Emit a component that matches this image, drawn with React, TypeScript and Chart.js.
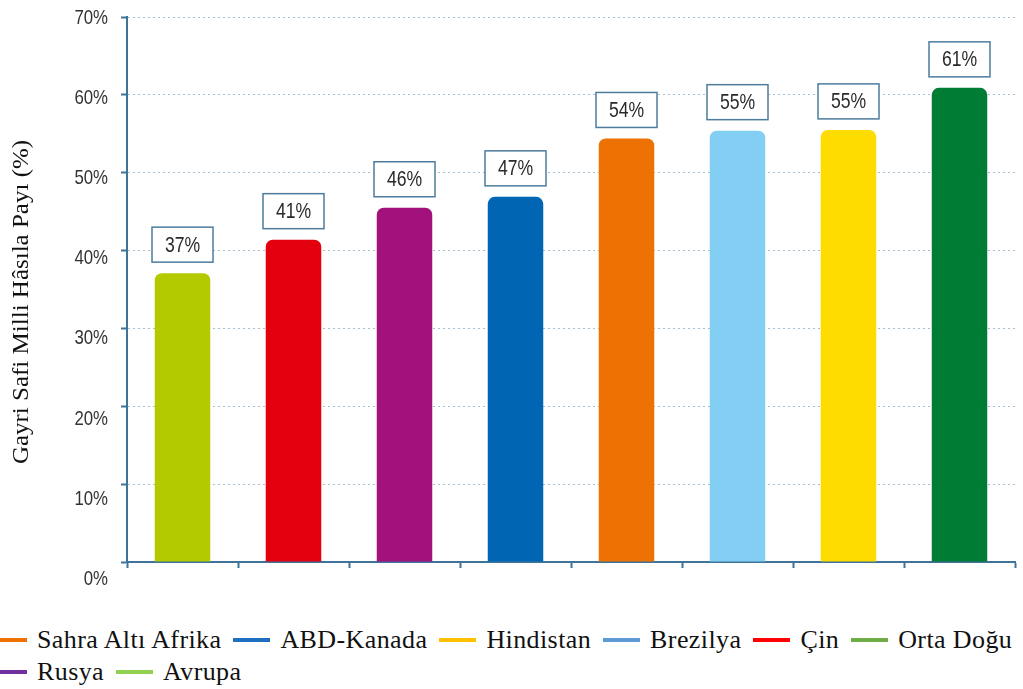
import React, { useEffect, useRef } from "react";
import { Chart, registerables } from "chart.js";

Chart.register(...registerables);

const categories = ["Avrupa", "Çin", "Rusya", "ABD-Kanada", "Sahra Altı Afrika", "Brezilya", "Hindistan", "Orta Doğu"];
const values = [37.1, 41.4, 45.5, 46.9, 54.4, 55.4, 55.5, 60.9];
const valueLabels = ["37%", "41%", "46%", "47%", "54%", "55%", "55%", "61%"];
const barColors = ["#b3c900", "#e3000f", "#a2117c", "#0066b3", "#ee7203", "#83cff4", "#ffdc00", "#007c34"];
const yTicks = [0, 10, 20, 30, 40, 50, 60, 70];
const yTickLabels = ["0%", "10%", "20%", "30%", "40%", "50%", "60%", "70%"];
const legendNames = ["Sahra Altı Afrika", "ABD-Kanada", "Hindistan", "Brezilya", "Çin", "Orta Doğu", "Rusya", "Avrupa"];
const legendColors = ["#ee7203", "#1e6fbd", "#ffc000", "#5b9bd5", "#ff0000", "#70ad47", "#7030a0", "#92d050"];
const axisTitle = "Gayri Safi Milli Hâsıla Payı (%)";

const AXIS = "#3f7399";
const SANS = "'Liberation Sans', Arial, sans-serif";
const SERIF = "'Liberation Serif', 'Times New Roman', serif";

function narrowText(ctx: CanvasRenderingContext2D, text: string, x: number, y: number, align: CanvasTextAlign) {
  ctx.save();
  ctx.translate(x, y);
  ctx.scale(0.8, 1);
  ctx.textAlign = align;
  ctx.fillText(text, 0, 0);
  ctx.restore();
}

const labelPlugin = {
  id: "narrowLabels",
  afterDatasetsDraw(chart: any) {
    const ctx = chart.ctx;
    const meta = chart.getDatasetMeta(0);
    ctx.save();
    meta.data.forEach((bar: any, i: number) => {
      const w = 61;
      const h = 35;
      const x = bar.x - w / 2;
      const y = bar.y - 11 - h;
      ctx.fillStyle = "#ffffff";
      ctx.fillRect(x, y, w, h);
      ctx.strokeStyle = "#4d7c9e";
      ctx.lineWidth = 1.5;
      ctx.strokeRect(x, y, w, h);
      ctx.fillStyle = "#2a2a2a";
      ctx.font = `22px ${SANS}`;
      ctx.textBaseline = "middle";
      narrowText(ctx, valueLabels[i], bar.x, y + h / 2 + 1, "center");
    });
    const ys = chart.scales.y;
    ctx.fillStyle = "#333333";
    ctx.font = `21px ${SANS}`;
    ctx.textBaseline = "middle";
    yTicks.forEach((v, i) => {
      const shift = 17 - (16 * v) / 70;
      narrowText(ctx, yTickLabels[i], 108, ys.getPixelForValue(v) + shift, "right");
    });
    ctx.save();
    ctx.translate(22, 302);
    ctx.rotate(-Math.PI / 2);
    ctx.scale(1.25, 1.2);
    ctx.fillStyle = "#111111";
    ctx.font = `20px ${SERIF}`;
    ctx.textAlign = "center";
    ctx.textBaseline = "middle";
    ctx.fillText(axisTitle, 0, 0);
    ctx.restore();
    ctx.restore();
  },
};

export default function App() {
  const canvasRef = useRef<HTMLCanvasElement>(null);

  useEffect(() => {
    if (!canvasRef.current) return;
    const chart = new Chart(canvasRef.current, {
      type: "bar",
      data: {
        labels: categories,
        datasets: [
          {
            data: values,
            backgroundColor: barColors,
            borderWidth: 0,
            borderRadius: { topLeft: 7, topRight: 7, bottomLeft: 0, bottomRight: 0 },
            borderSkipped: "bottom",
            barPercentage: 0.5,
            categoryPercentage: 1,
          },
        ],
      },
      options: {
        animation: false,
        responsive: false,
        maintainAspectRatio: false,
        layout: { padding: { left: 0, right: 8, top: 17, bottom: 32 } },
        plugins: {
          legend: { display: false },
          tooltip: { enabled: false },
        },
        scales: {
          x: {
            offset: true,
            grid: {
              display: true,
              offset: true,
              drawOnChartArea: false,
              drawTicks: true,
              tickLength: 6,
              tickColor: AXIS,
              tickWidth: 2,
            },
            border: { display: true, color: AXIS, width: 2 },
            ticks: { display: false },
          },
          y: {
            min: 0,
            max: 70,
            afterFit: (s: any) => {
              s.width = 127;
            },
            afterBuildTicks: (s: any) => {
              s.ticks = yTicks.map((v) => ({ value: v }));
            },
            grid: {
              color: "#a9bfcf",
              lineWidth: 1,
              drawTicks: true,
              tickLength: 6,
              tickColor: AXIS,
              tickWidth: 2,
              tickBorderDash: [],
            },
            border: { display: true, color: AXIS, width: 2, dash: [2, 3] },
            ticks: { display: false },
            title: { display: false },
          },
        },
      },
      plugins: [labelPlugin],
    });
    return () => chart.destroy();
  }, []);

  const items = legendNames.map((name, i) => (
    <div key={name} style={{ display: "flex", alignItems: "center", marginRight: 12 }}>
      <span
        style={{
          display: "inline-block",
          width: 37,
          height: 4,
          background: legendColors[i],
          marginRight: 10,
        }}
      />
      <span>{name}</span>
    </div>
  ));

  return (
    <div style={{ position: "fixed", left: 0, top: 0, width: 1023, height: 689, background: "#fff", overflow: "hidden" }}>
      <canvas ref={canvasRef} width={1023} height={600} style={{ display: "block" }} />
      <div
        style={{
          position: "absolute",
          left: -10,
          top: 624,
          width: 1060,
          display: "flex",
          flexWrap: "wrap",
          fontFamily: SERIF,
          fontSize: 26,
          letterSpacing: "0.4px",
          color: "#111",
          lineHeight: "32px",
        }}
      >
        {items}
      </div>
    </div>
  );
}
